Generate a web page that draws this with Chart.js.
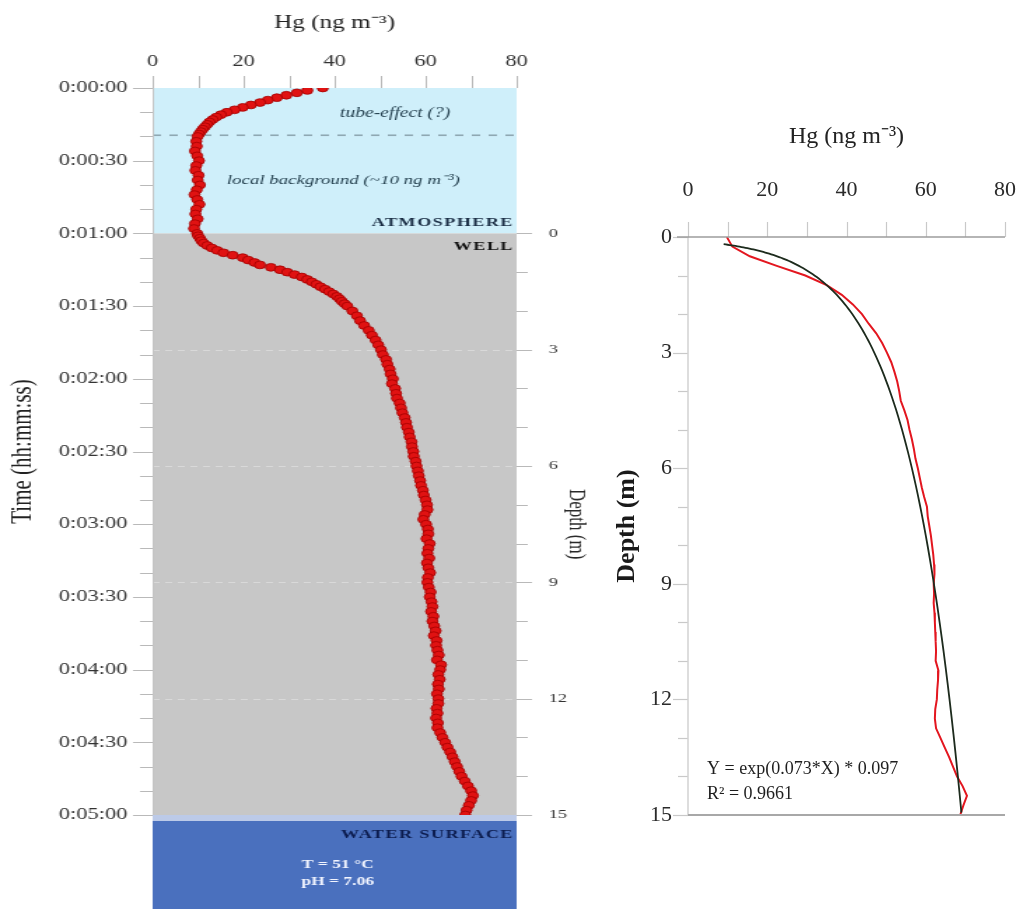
<!DOCTYPE html>
<html>
<head>
<meta charset="utf-8">
<title>Hg profile in the well</title>
<script src="https://cdn.jsdelivr.net/npm/chart.js@4.4.1/dist/chart.umd.min.js"></script>
<style>
  html, body { margin: 0; padding: 0; background: #fff; width: 1018px; height: 909px; overflow: hidden; }
  /* the time-series panel is drawn at a narrower internal width and widened horizontally */
  #leftWrap { position: absolute; left: 0; top: 0; width: 430px; height: 909px; transform: scaleX(1.4); transform-origin: 0 0; }
  #right { position: absolute; left: 600px; top: 0; }
</style>
</head>
<body>
<div id="leftWrap"><canvas id="left" width="430" height="909"></canvas></div>
<canvas id="right" width="418" height="909"></canvas>
<script>
const SERIF = '"Liberation Serif", "Times New Roman", serif';

// ---- time series: elapsed time (s) and Hg concentration (ng m-3) ----
// sampled every second while the concentration changes fast, every 2 s elsewhere
const TIME_S = [
  0, 1, 2, 3, 4, 5, 6, 7, 8, 9, 10, 11, 12, 13, 14, 15, 16, 17, 18, 19,
  20, 22, 24, 26, 28, 30, 32, 34, 36, 38, 40, 42, 44, 46, 48, 50, 52, 54, 56, 58,
  60, 61, 62, 63, 64, 65, 66, 67, 68, 69, 70, 71, 72, 73, 74, 75, 76, 77, 78, 79,
  80, 81, 82, 83, 84, 85, 86, 87, 88, 89, 90, 92, 94, 96, 98,
  100, 102, 104, 106, 108, 110, 112, 114, 116, 118,
  120, 122, 124, 126, 128, 130, 132, 134, 136, 138, 140, 142, 144, 146, 148, 150, 152, 154, 156, 158,
  160, 162, 164, 166, 168, 170, 172, 174, 176, 178, 180, 182, 184, 186, 188, 190, 192, 194, 196, 198,
  200, 202, 204, 206, 208, 210, 212, 214, 216, 218, 220, 222, 224, 226, 228, 230, 232, 234, 236, 238,
  240, 242, 244, 246, 248, 250, 252, 254, 256, 258, 260, 262, 264, 266, 268, 270, 272, 274, 276, 278,
  280, 282, 284, 286, 288, 290, 292, 294, 296, 298, 300
];
const HG_SERIES = [
  37.4, 34.0, 31.7, 29.4, 27.3, 25.3, 23.6, 21.6, 19.8, 18.0, 16.3, 15.0, 14.0, 13.2, 12.5, 12.0, 11.5, 11.0, 10.6, 10.2,
  9.9, 9.6, 9.7, 9.3, 9.8, 10.2, 9.6, 9.4, 10.1, 9.9, 10.4, 9.7, 9.2, 9.8, 10.3, 9.6, 9.4, 9.9, 9.3, 9.1,
  9.8, 10.0, 10.4, 10.7, 11.2, 12.0, 13.0, 14.2, 15.6, 17.6, 19.8, 21.0, 22.4, 23.6, 26.0, 28.0, 29.6, 31.2, 32.8, 34.0,
  35.0, 36.0, 36.9, 37.9, 38.8, 39.7, 40.5, 41.1, 41.6, 42.2, 42.8, 43.9, 44.9, 45.6, 46.5,
  47.5, 48.2, 49.0, 49.6, 50.2, 50.6, 51.3, 51.6, 52.1, 52.3,
  52.8, 52.6, 53.3, 53.5, 53.7, 54.3, 54.6, 54.9, 55.4, 55.7, 55.9, 56.3, 56.5, 56.9, 57.0, 57.3, 57.4, 57.8, 58.0, 58.3,
  58.5, 58.8, 59.0, 59.4, 59.6, 60.0, 60.3, 60.4, 59.8, 59.5, 60.1, 60.5, 60.6, 60.2, 60.9, 60.6, 60.4, 60.8, 60.3, 60.6,
  61.0, 60.5, 60.4, 60.7, 61.1, 60.9, 61.3, 61.5, 61.2, 61.7, 61.5, 61.9, 62.2, 61.8, 62.4, 62.3, 62.6, 62.9, 62.5, 63.4,
  63.2, 62.8, 63.1, 62.7, 62.9, 62.5, 62.8, 62.8, 62.4, 62.6, 62.3, 62.7, 62.6, 63.2, 63.7, 64.3, 64.8, 65.4, 65.9, 66.4,
  66.9, 67.4, 67.9, 68.6, 69.3, 70.0, 70.4, 70.0, 69.5, 69.0, 68.7
];

// ---- depth profile: depth below the well head (m) and Hg (ng m-3) ----
const PROFILE_DEPTH_M = [
  0, 0.25, 0.5, 0.75, 1, 1.25, 1.5, 1.75, 2, 2.25, 2.5, 2.75, 3, 3.25, 3.5, 3.75,
  4, 4.25, 4.5, 4.75, 5, 5.25, 5.5, 5.75, 6, 6.25, 6.5, 6.75, 7, 7.25, 7.5, 7.75,
  8, 8.25, 8.5, 8.75, 9, 9.25, 9.5, 9.75, 10, 10.25, 10.5, 10.75, 11, 11.25, 11.5, 11.75,
  12, 12.25, 12.5, 12.75, 13, 13.25, 13.5, 13.75, 14, 14.25, 14.5, 14.75, 15
];
const PROFILE_HG = [
  9.8, 11.2, 15.6, 22.4, 29.6, 35.0, 38.8, 41.6, 43.9, 45.6, 47.5, 49.0, 50.2, 51.3, 52.1, 52.8,
  53.3, 53.7, 54.6, 55.4, 55.9, 56.5, 57.0, 57.4, 58.0, 58.5, 59.0, 59.6, 60.3, 60.5, 60.9, 61.3,
  61.6, 61.9, 62.1, 62.2, 62.0, 62.1, 62.0, 62.2, 62.3, 62.4, 62.5, 62.6, 62.5, 63.2, 63.1, 62.9,
  62.8, 62.4, 62.3, 62.6, 63.7, 64.8, 65.9, 66.9, 67.9, 69.3, 70.4, 69.5, 68.7
];

// exponential fit of depth against Hg: Y = exp(a*X) * b
const FIT_RATE = 0.073;
const FIT_SCALE = 0.097;
const FIT_R2 = '0.9661';
const FIT_HG_RANGE = [9, 69.1];

// ---- axes ----
const HG_TICKS = [0, 20, 40, 60, 80];
const TIME_LABELS = ['0:00:00', '0:00:30', '0:01:00', '0:01:30', '0:02:00', '0:02:30',
                     '0:03:00', '0:03:30', '0:04:00', '0:04:30', '0:05:00'];
const DEPTH_TICKS = [0, 3, 6, 9, 12, 15];

// ---- phases of the descent ----
const WELL_ENTRY_S = 60;        // probe passes the well head
const WELL_BOTTOM_S = 300;      // probe reaches the water surface
const WELL_DEPTH_M = 15;
const TUBE_EFFECT_END_S = 19.5;
// depth axis aligned so that 0 m sits at the well head and 15 m at the water surface
const DEPTH_AXIS_MIN = -WELL_DEPTH_M * WELL_ENTRY_S / (WELL_BOTTOM_S - WELL_ENTRY_S);

Chart.defaults.font.family = SERIF;
Chart.defaults.color = '#2a2a2a';
Chart.defaults.animation = false;

function hline(ctx, x0, x1, y) { ctx.beginPath(); ctx.moveTo(x0, y); ctx.lineTo(x1, y); ctx.stroke(); }
function vline(ctx, x, y0, y1) { ctx.beginPath(); ctx.moveTo(x, y0); ctx.lineTo(x, y1); ctx.stroke(); }

// backgrounds, zone labels, water box and tick marks of the time-series panel
const leftPanelDecor = {
  id: 'leftPanelDecor',
  beforeDatasetsDraw(chart) {
    const { ctx, chartArea: a, scales: { x, y, y2 } } = chart;
    const w = a.right - a.left;
    const yTop = y.getPixelForValue(0);
    const yWell = y.getPixelForValue(WELL_ENTRY_S);
    const yBot = y.getPixelForValue(WELL_BOTTOM_S);
    ctx.save();
    ctx.fillStyle = '#cfeffa';
    ctx.fillRect(a.left, yTop, w, yWell - yTop);
    ctx.fillStyle = '#c7c7c7';
    ctx.fillRect(a.left, yWell, w, yBot - yWell);

    // faint dashed guides at the labelled depths
    ctx.strokeStyle = '#d9d9d9';
    ctx.lineWidth = 1;
    ctx.setLineDash([5, 4]);
    DEPTH_TICKS.filter(d => d > 0 && d < WELL_DEPTH_M).forEach(d => {
      hline(ctx, a.left, a.right, Math.round(y2.getPixelForValue(d)) + 0.5);
    });

    // end of the tube effect
    ctx.strokeStyle = '#8fa8b2';
    ctx.lineWidth = 1.6;
    ctx.setLineDash([6, 6]);
    hline(ctx, a.left, a.right, y.getPixelForValue(TUBE_EFFECT_END_S));
    ctx.setLineDash([]);

    ctx.textBaseline = 'middle';
    ctx.fillStyle = '#24404f';
    ctx.textAlign = 'center';
    ctx.font = `italic 14px ${SERIF}`;
    ctx.fillText('tube-effect (?)', x.getPixelForValue(53.3), y.getPixelForValue(10.3));
    ctx.font = `italic 13.5px ${SERIF}`;
    ctx.fillText('local background (~10 ng m⁻³)', x.getPixelForValue(41.9), y.getPixelForValue(38));

    ctx.textAlign = 'right';
    ctx.letterSpacing = '1px';
    ctx.font = `bold 13px ${SERIF}`;
    ctx.fillStyle = '#1a2d44';
    ctx.fillText('ATMOSPHERE', a.right - 2, yWell - 11);
    ctx.fillStyle = '#111';
    ctx.fillText('WELL', a.right - 2, yWell + 13);
    ctx.letterSpacing = '0px';
    ctx.restore();
  },
  afterDraw(chart) {
    const { ctx, chartArea: a, scales: { x, y, y2 } } = chart;
    const yBot = y.getPixelForValue(WELL_BOTTOM_S);
    ctx.save();
    // water surface at the bottom of the well
    ctx.fillStyle = '#bccae8';
    ctx.fillRect(a.left, yBot, a.right - a.left, 6);
    ctx.fillStyle = '#4a70be';
    ctx.fillRect(a.left, yBot + 6, a.right - a.left, chart.height - yBot - 6);
    ctx.textBaseline = 'middle';
    ctx.textAlign = 'right';
    ctx.letterSpacing = '1px';
    ctx.font = `bold 13px ${SERIF}`;
    ctx.fillStyle = '#0c1c4e';
    ctx.fillText('WATER SURFACE', a.right - 2, yBot + 20);
    ctx.letterSpacing = '0px';
    ctx.textAlign = 'center';
    ctx.font = `bold 12.5px ${SERIF}`;
    ctx.fillStyle = '#f2f5ff';
    ctx.fillText('T = 51 °C', x.getPixelForValue(40.7), yBot + 50);
    ctx.fillText('pH = 7.06', x.getPixelForValue(40.7), yBot + 67);

    // tick marks
    ctx.strokeStyle = '#b9b9b9';
    ctx.lineWidth = 1;
    for (let v = 0; v <= 80; v += 10) {
      vline(ctx, Math.round(x.getPixelForValue(v)) + 0.5, a.top - 12, a.top);
    }
    for (let t = 0; t <= 300; t += 10) {
      const len = t % 30 === 0 ? 14 : 9;
      hline(ctx, a.left - len, a.left, Math.round(y.getPixelForValue(t)) + 0.5);
    }
    for (let d = 0; d <= WELL_DEPTH_M; d += 1) {
      const len = d % 3 === 0 ? 11 : 8;
      hline(ctx, a.right, a.right + len, Math.round(y2.getPixelForValue(d)) + 0.5);
    }
    ctx.strokeStyle = '#c4c4c4';
    vline(ctx, a.left + 0.5, a.top, yBot);

    // depth axis title, centred on the well section
    ctx.translate(a.right + 42, (y2.getPixelForValue(0) + y2.getPixelForValue(WELL_DEPTH_M)) / 2);
    ctx.rotate(Math.PI / 2);
    ctx.font = `17px ${SERIF}`;
    ctx.fillStyle = '#2a2a2a';
    ctx.textAlign = 'center';
    ctx.fillText('Depth (m)', 0, 0);
    ctx.restore();
  }
};

new Chart(document.getElementById('left'), {
  type: 'scatter',
  data: {
    datasets: [{
      data: TIME_S.map((t, i) => ({ x: HG_SERIES[i], y: t })),
      showLine: false,
      pointRadius: 3.9,
      pointBackgroundColor: '#e01212',
      pointBorderColor: '#a30000',
      pointBorderWidth: 0.8
    }]
  },
  options: {
    responsive: false,
    animation: false,
    layout: { padding: { top: 0, left: 0, right: 0, bottom: 94 } },
    plugins: { legend: { display: false }, tooltip: { enabled: false } },
    scales: {
      x: {
        type: 'linear', position: 'top', min: 0, max: 80,
        afterFit(s) { s.height = 88; },
        grid: { display: false, drawTicks: false }, border: { display: false },
        ticks: {
          stepSize: 10, autoSkip: false, maxRotation: 0, padding: 17,
          font: { size: 16 }, color: '#333',
          callback: v => HG_TICKS.includes(v) ? String(v) : ''
        },
        title: { display: true, text: 'Hg (ng m⁻³)', font: { size: 18 }, color: '#222', padding: { top: 12, bottom: 0 } }
      },
      y: {
        type: 'linear', position: 'left', reverse: true, min: 0, max: 300,
        afterFit(s) { s.width = 109; },
        grid: { display: false, drawTicks: false }, border: { display: false },
        ticks: {
          stepSize: 10, autoSkip: false, padding: 18,
          font: { size: 16 }, color: '#333',
          callback: v => v % 30 === 0 ? TIME_LABELS[v / 30] : ''
        },
        title: { display: true, text: 'Time (hh:mm:ss)', font: { size: 21 }, color: '#222', padding: { top: 4, bottom: 0 } }
      },
      y2: {
        type: 'linear', position: 'right', reverse: true, min: DEPTH_AXIS_MIN, max: WELL_DEPTH_M,
        afterFit(s) { s.width = 61; },
        afterBuildTicks(s) { s.ticks = s.ticks.filter(t => t.value >= 0 && Number.isInteger(t.value)); },
        grid: { display: false, drawTicks: false }, border: { display: false },
        ticks: {
          stepSize: 1, autoSkip: false, padding: 23,
          font: { size: 13 }, color: '#333',
          callback: v => DEPTH_TICKS.includes(v) ? String(v) : ''
        }
      }
    }
  },
  plugins: [leftPanelDecor]
});

// axis lines, tick marks, Hg tick labels and fit equation of the depth-profile panel
const rightPanelDecor = {
  id: 'rightPanelDecor',
  afterDraw(chart) {
    const { ctx, chartArea: a, scales: { x, y } } = chart;
    ctx.save();
    ctx.lineWidth = 1.2;
    ctx.strokeStyle = '#c9c9c9';
    for (let v = 0; v <= 80; v += 10) {
      vline(ctx, Math.round(x.getPixelForValue(v)) + 0.5, a.top - 15, a.top);
    }
    for (let d = 0; d <= 15; d += 1) {
      const len = d % 3 === 0 ? 15 : 10;
      hline(ctx, a.left - len, a.left, Math.round(y.getPixelForValue(d)) + 0.5);
    }
    ctx.strokeStyle = '#d2d2d2';
    ctx.lineWidth = 1.5;
    vline(ctx, a.left, a.top, a.bottom);
    ctx.strokeStyle = '#9c9c9c';
    ctx.lineWidth = 1.5;
    hline(ctx, a.left - 11, a.right, a.top);
    ctx.strokeStyle = '#a8a8a8';
    ctx.lineWidth = 2;
    hline(ctx, a.left, a.right, a.bottom);

    ctx.fillStyle = '#2a2a2a';
    ctx.textAlign = 'center';
    ctx.textBaseline = 'middle';
    ctx.font = `22px ${SERIF}`;
    HG_TICKS.forEach(v => ctx.fillText(String(v), x.getPixelForValue(v), a.top - 47));

    ctx.fillStyle = '#1e1e1e';
    ctx.textAlign = 'left';
    ctx.font = `18px ${SERIF}`;
    ctx.fillText(`Y = exp(${FIT_RATE}*X) * ${FIT_SCALE}`, a.left + 19, a.bottom - 46);
    ctx.fillText(`R² = ${FIT_R2}`, a.left + 19, a.bottom - 21);
    ctx.restore();
  }
};

// fitted curve evaluated from the stated equation
const fitPoints = [];
for (let hg = FIT_HG_RANGE[0]; hg <= FIT_HG_RANGE[1] + 1e-9; hg += 0.5) {
  fitPoints.push({ x: hg, y: FIT_SCALE * Math.exp(FIT_RATE * hg) });
}

new Chart(document.getElementById('right'), {
  type: 'scatter',
  data: {
    datasets: [
      {
        data: fitPoints,
        showLine: true, pointRadius: 0, borderColor: '#1d2b1d', borderWidth: 1.8, tension: 0
      },
      {
        data: PROFILE_DEPTH_M.map((d, i) => ({ x: PROFILE_HG[i], y: d })),
        showLine: true, pointRadius: 0, borderColor: '#e3161f', borderWidth: 2, tension: 0
      }
    ]
  },
  options: {
    responsive: false,
    animation: false,
    layout: { padding: { top: 0, left: 0, right: 13, bottom: 94 } },
    plugins: { legend: { display: false }, tooltip: { enabled: false } },
    scales: {
      x: {
        type: 'linear', position: 'top', min: 0, max: 80,
        afterFit(s) { s.height = 237; },
        grid: { display: false, drawTicks: false }, border: { display: false },
        ticks: { display: false, stepSize: 10 },
        title: { display: true, text: 'Hg (ng m⁻³)', font: { size: 24 }, color: '#222', padding: { top: 122, bottom: 0 } }
      },
      y: {
        type: 'linear', position: 'left', reverse: true, min: 0, max: 15,
        afterFit(s) { s.width = 88; },
        grid: { display: false, drawTicks: false }, border: { display: false },
        ticks: {
          stepSize: 1, autoSkip: false, padding: 16,
          font: { size: 22 }, color: '#2a2a2a',
          callback: v => DEPTH_TICKS.includes(v) ? String(v) : ''
        },
        title: { display: true, text: 'Depth (m)', font: { size: 26, weight: 'bold' }, color: '#1a1a1a', padding: { top: 12, bottom: 0 } }
      }
    }
  },
  plugins: [rightPanelDecor]
});
</script>
</body>
</html>
